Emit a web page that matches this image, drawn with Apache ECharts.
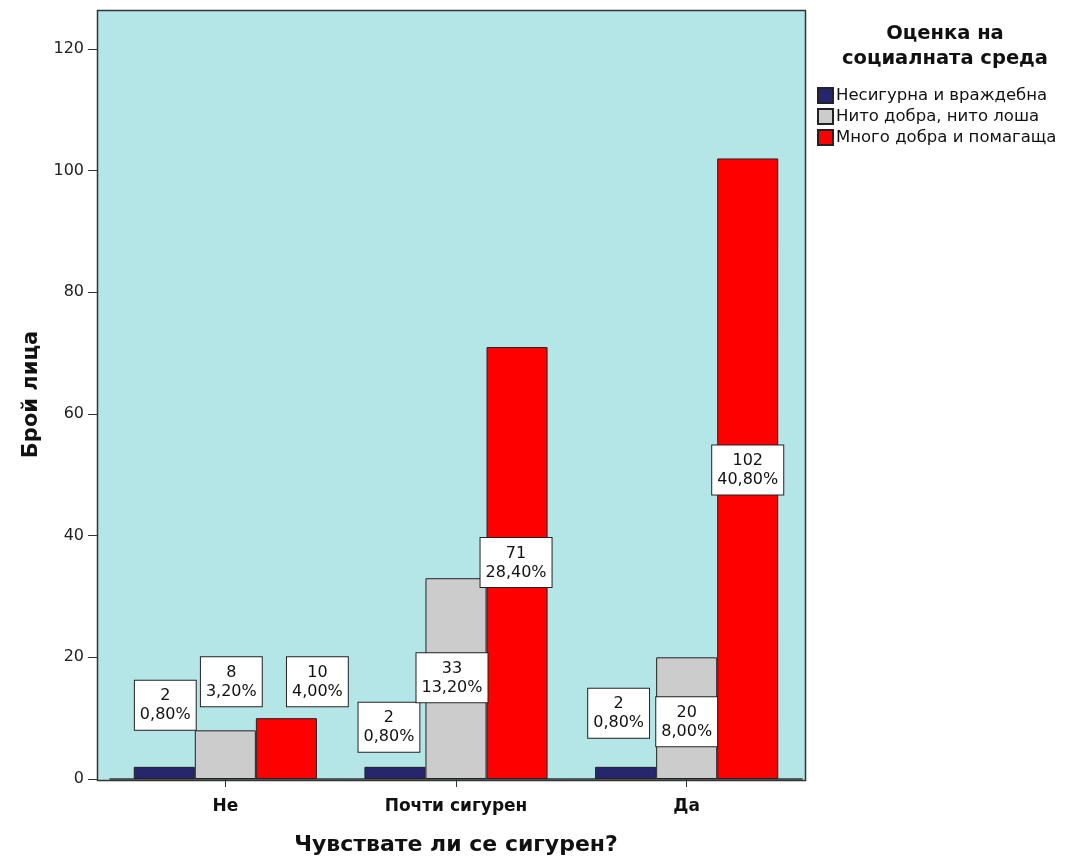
<!DOCTYPE html>
<html><head><meta charset="utf-8">
<script src="https://cdn.jsdelivr.net/npm/echarts@6/dist/echarts.min.js"></script>
<style>html,body{margin:0;padding:0;background:#fff}#c{width:1066px;height:861px}</style>
</head><body><div id="c"></div>
<script>
const categories = ['Не', 'Почти сигурен', 'Да'];
const seriesNames = ['Несигурна и враждебна', 'Нито добра, нито лоша', 'Много добра и помагаща'];
const countsHostile = [2, 2, 2];
const countsNeutral = [8, 33, 20];
const countsGood = [10, 71, 102];
const pctHostile = ['0,80%', '0,80%', '0,80%'];
const pctNeutral = ['3,20%', '13,20%', '8,00%'];
const pctGood = ['4,00%', '28,40%', '40,80%'];
const yTicks = [0, 20, 40, 60, 80, 100, 120];

const colors = ['#26266e', '#cccccc', '#ff0000'];
// label placement styles (offsets from bar top), per series / category
const labelOffsets = [
  [[1, -37], [-6, -15], [-7, -29]],
  [[6, -24], [-4, 124], [0, 89]],
  [[31, -12], [-1, 240], [0, 336]]
];
const FONT = 'DejaVu Sans, Verdana, sans-serif';
const values = [countsHostile, countsNeutral, countsGood];
const pcts = [pctHostile, pctNeutral, pctGood];

const series = values.map((vals, si) => ({
  name: seriesNames[si],
  type: 'bar',
  barGap: '0%',
  barCategoryGap: '20.6%',
  itemStyle: { color: colors[si], borderColor: '#222', borderWidth: 1 },
  data: vals.map((v, ci) => ({
    value: v,
    label: {
      show: true,
      position: 'top',
      distance: 0,
      offset: labelOffsets[si][ci],
      formatter: v + '\n' + pcts[si][ci],
      fontFamily: FONT,
      fontSize: 16,
      lineHeight: 19,
      color: '#111',
      backgroundColor: '#fff',
      borderColor: '#222',
      borderWidth: 1,
      padding: [6, 5, 5, 5],
      align: 'center'
    }
  }))
}));

const chart = echarts.init(document.getElementById('c'));
chart.setOption({
  animation: false,
  backgroundColor: '#fff',
  title: {
    text: 'Оценка на\nсоциалната среда',
    left: 940, top: 16, textAlign: 'center',
    textStyle: { fontFamily: FONT, fontSize: 19.5, fontWeight: 'bold', color: '#111', lineHeight: 25 }
  },
  legend: {
    orient: 'vertical', left: 812, top: 82,
    itemWidth: 15, itemHeight: 15, itemGap: 4,
    icon: 'rect',
    textStyle: { fontFamily: FONT, fontSize: 16.5, color: '#111', padding: [0, 0, 0, -2] },
    data: seriesNames
  },
  graphic: [{
    type: 'rect', z: -10, silent: true,
    shape: { x: 97.5, y: 10.5, width: 708, height: 770 },
    style: { fill: '#b4e6e8', stroke: '#333', lineWidth: 1.5 }
  }],
  grid: { left: 110, right: 264, top: 10, bottom: 81, show: false },
  xAxis: {
    type: 'category',
    data: categories,
    name: 'Чувствате ли се сигурен?',
    nameLocation: 'middle', nameGap: 55,
    nameTextStyle: { fontFamily: FONT, fontSize: 22, fontWeight: 'bold', color: '#111' },
    axisLine: { show: true, lineStyle: { color: '#333', width: 1.5 } },
    axisTick: { show: true, alignWithLabel: true, length: 8, lineStyle: { color: '#333' } },
    axisLabel: { fontFamily: FONT, fontSize: 17, fontWeight: 'bold', color: '#111', margin: 19 }
  },
  yAxis: {
    type: 'value', min: 0, max: 126.4, interval: 20,
    offset: 12,
    name: 'Брой лица',
    nameLocation: 'middle', nameGap: 56,
    nameTextStyle: { fontFamily: FONT, fontSize: 21, fontWeight: 'bold', color: '#111' },
    axisLine: { show: false },
    axisTick: { show: true, length: 10, lineStyle: { color: '#333' } },
    axisLabel: { fontFamily: FONT, fontSize: 16, color: '#222', margin: 14, showMaxLabel: false,
      formatter: v => yTicks.includes(v) ? String(v) : '' },
    splitLine: { show: false }
  },
  series: series
});
</script></body></html>
